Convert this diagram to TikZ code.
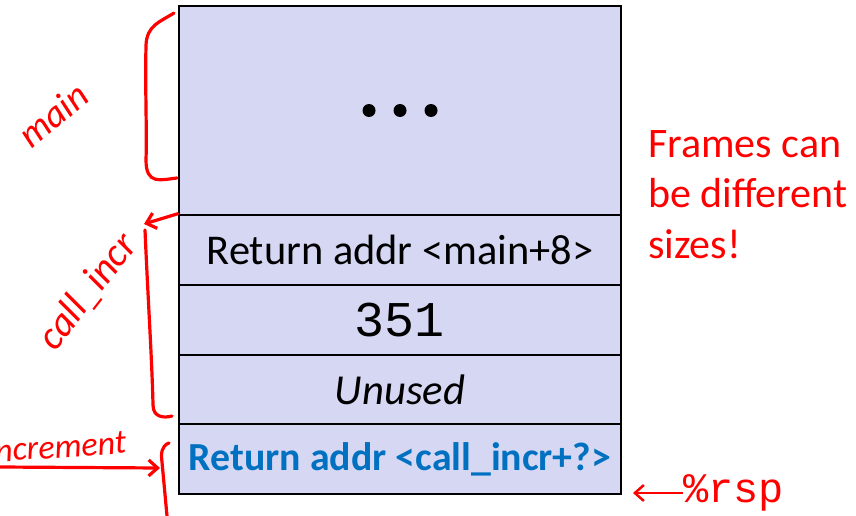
\documentclass[tikz,border=0pt]{standalone}
\usepackage{fontspec}
\setmainfont{Carlito}
\newfontfamily\codefont{Liberation Mono}
\usetikzlibrary{arrows.meta}
\definecolor{cellfill}{RGB}{214,215,243}
\definecolor{retblue}{RGB}{0,112,192}
\definecolor{inkred}{RGB}{255,0,0}

\begin{document}
\begin{tikzpicture}[x=1pt,y=-1pt,
  cell/.style={draw=black, line width=2.5pt, fill=cellfill, minimum width=442pt, inner sep=0pt},
  ink/.style={draw=inkred, line width=3.2pt, line cap=round, line join=round},
  scrawl/.style={text=inkred, font=\itshape\fontsize{34}{34}\selectfont, inner sep=0pt},
  note/.style={text=inkred, font=\fontsize{42}{50.5}\selectfont, align=left, inner sep=0pt}]
\useasboundingbox (0,0) rectangle (856,516);
\clip (0,0) rectangle (856,516);

% stack frames
\node[cell, minimum height=209pt] (dots) at (400,110.5) {};
\node[cell, minimum height=70pt, font=\fontsize{42.4}{42.4}\selectfont] (ret1) at (400,250) {Return addr <main+8>};
\node[cell, minimum height=70pt, font=\codefont\fontsize{50}{50}\selectfont] (val) at (400,320) {351};
\node[cell, minimum height=69pt, font=\itshape\fontsize{42.7}{42.7}\selectfont] (unused) at (400,389.5) {Unused};
\node[cell, minimum height=70pt, text=retblue, font=\bfseries\fontsize{39.8}{39.8}\selectfont] (ret2) at (400,459) {Return addr <call\_incr+?>};

% ellipsis in the top frame
\foreach \dx in {-31,0,31}
  \fill ([xshift=\dx pt]dots.center) circle (6.5pt);

% side note
\node[note, anchor=north west] (sizes) at (648,130) {Frames can\\be different\\sizes!};

% stack pointer
\node[text=inkred, font=\codefont\fontsize{42}{42}\selectfont, anchor=west, inner sep=0pt] (rsp) at (683,493) {\%rsp};
\coordinate (rsptip) at (633,493);
\draw[draw=inkred, line width=2.5pt, -{Straight Barb[length=9pt,width=16pt]}] (rsp.west) -- (rsptip);

% hand-drawn annotations
\node[scrawl, rotate=40, font=\itshape\fontsize{38}{38}\selectfont] (mainlbl) at (53,115) {main};
\draw[ink] (174,13) .. controls (160,22) and (147,25) .. (146,45)
  .. controls (145,90) and (147,130) .. (146,160)
  .. controls (146,185) and (160,180) .. (177,178);

\node[scrawl, rotate=52, font=\itshape\fontsize{40}{40}\selectfont] (calllbl) at (88,292) {call\_incr};
\coordinate (calltip) at (144,224);
\draw[ink, -{Straight Barb[length=9pt,width=16pt]}] (ret1.north west) -- (calltip);
\draw[ink] (145,230) .. controls (148,300) and (152,360) .. (153,405)
  .. controls (153,418) and (165,418) .. (172,416);

\node[scrawl, rotate=4, anchor=base east] (inclbl) at (127,453) {increment};
\coordinate (incstart) at (0,467);
\coordinate (inctip) at (160,468);
\draw[ink, -{Straight Barb[length=9pt,width=16pt]}] (incstart) -- (inctip);
\draw[ink] (169,443) .. controls (161,446) and (161,454) .. (162,462) -- (167,516);
\end{tikzpicture}
\end{document}
